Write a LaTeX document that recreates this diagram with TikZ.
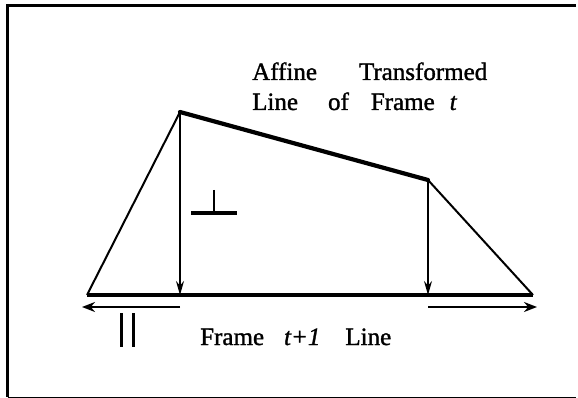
\documentclass[tikz,border=0pt]{standalone}
\usepackage{fontspec}
\setmainfont{Liberation Serif}[FakeBold=1.3]
\usetikzlibrary{arrows.meta, calc}
\tikzset{
    edgeline/.style={line width=2pt, line join=round},
    transline/.style={line width=4.2pt, line cap=round},
    baseline/.style={line width=3.2pt},
    dropline/.style={line width=1.3pt, -{Stealth[length=14pt, width=8pt]}},
    shiftarrow/.style={line width=2.8pt, -{Stealth[length=13pt, width=10pt]}},
    lbl/.style={anchor=base west, inner sep=0pt, font=\fontsize{25}{30}\selectfont},
    frameline/.style={line width=3pt},
}

\begin{document}
\begin{tikzpicture}[x=1pt, y=-1pt]
        \useasboundingbox (0,0) rectangle (578,398);
        % outer frame (open on the right)
        \draw[frameline] (576,6) -- (7.5,6) -- (7.5,397);
        \draw[line width=1pt] (7.5,397) -- (576,397);
        % points of the lines
        \coordinate (apex)  at (180,112);
        \coordinate (knee)  at (428,180);
        \coordinate (bl)    at (87,295);
        \coordinate (br)    at (533,295);
        \coordinate (foota) at (180,295);
        \coordinate (footb) at (428,295);
        \coordinate (la1) at (180,307);
        \coordinate (la2) at (82,307);
        \coordinate (ra1) at (428,307);
        \coordinate (ra2) at (537,307);
        \draw[edgeline] (bl) -- (apex);
        \draw[transline] (apex) -- (knee);
        \draw[edgeline] (knee) -- (br);
        \draw[baseline] (bl) -- (br);
        \draw[dropline] (apex) -- (foota);
        \draw[dropline] (knee) -- (footb);
        \draw[shiftarrow] (la1) -- (la2);
        \draw[shiftarrow] (ra1) -- (ra2);
        % perpendicular and parallel marks
        \draw[line width=1.8pt] (214,190) -- (214,213);
        \draw[line width=4pt] (191,213) -- (237,213);
        \draw[line width=3pt] (121,313) -- (121,347);
        \draw[line width=3pt] (133,313) -- (133,347);
        % labels
        \node[lbl] (title1) at (252,80) {Affine\hspace{42pt}Transformed};
        \node[lbl] (title2) at (252,110) {Line\hspace{30pt}of\hspace{22pt}Frame\hspace{15pt}\textit{t}};
        \node[lbl] (frame1) at (200,345) {Frame\hspace{20pt}\textit{t+1}\hspace{25pt}Line};
    \end{tikzpicture}
\end{document}
